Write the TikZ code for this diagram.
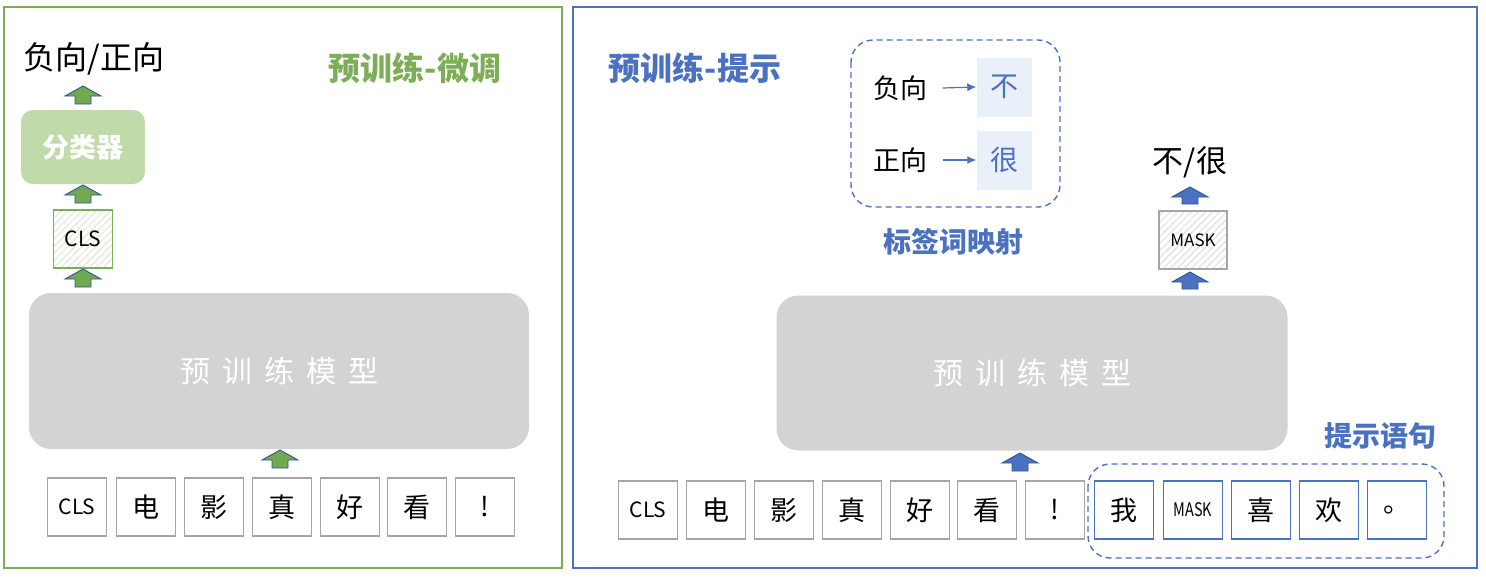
\documentclass[tikz,border=0pt]{standalone}
\usepackage{fontspec}
\setmainfont{Noto Sans CJK SC}
\usetikzlibrary{patterns.meta,arrows.meta}
\definecolor{gline}{HTML}{7DAE57}
\definecolor{bline}{HTML}{4A72C0}
\definecolor{gfill}{HTML}{C1DAAA}
\definecolor{mgray}{HTML}{D3D3D3}
\definecolor{tgray}{HTML}{A6A6A6}
\definecolor{arrfill}{HTML}{72A84E}
\definecolor{arrblue}{HTML}{4A72C0}
\definecolor{arredge}{HTML}{2F5597}
\definecolor{lblue}{HTML}{EAF0F9}
\definecolor{hatchg}{HTML}{D5E6C6}
\definecolor{hatchgray}{HTML}{D8D8D8}
\tikzset{
  panel/.style={draw, line width=1.6pt},
  tok/.style={draw=tgray, line width=1.3pt, minimum width=59pt, minimum height=58pt, inner sep=0pt, font=\fontsize{27}{27}\selectfont},
  btok/.style={tok, draw=bline},
  model/.style={fill=mgray, rounded corners=22pt, inner sep=0pt, text=white, font=\fontsize{30}{30}\selectfont},
  title/.style={font=\bfseries\fontsize{32}{32}\selectfont},
  subtitle/.style={font=\bfseries\fontsize{28}{28}\selectfont, text=bline},
  hatch/.style={pattern={Lines[angle=45,distance=5pt,line width=0.8pt]}},
  garrow/.style={fill=arrfill, draw=arredge, line width=0.9pt},
  barrow/.style={fill=arrblue, draw=arredge, line width=0.9pt},
  dbox/.style={draw=bline, dashed, dash pattern=on 6pt off 4pt, line width=1.4pt, rounded corners=22pt},
  lbl/.style={font=\fontsize{27}{27}\selectfont},
  biglbl/.style={font=\fontsize{32}{32}\selectfont},
}
\newcommand\blockup[4]{% style, x center, y top, height
  \draw[#1] (#2-18,#3+10) -- (#2,#3) -- (#2+18,#3+10) -- (#2+8,#3+10) -- (#2+8,#3+#4) -- (#2-8,#3+#4) -- (#2-8,#3+10) -- cycle;}
\begin{document}
\begin{tikzpicture}[x=1pt,y=-1pt]
\useasboundingbox (0,0) rectangle (1486,576);
% panels
\draw[panel, draw=gline] (4,7) rectangle (562,568);
\draw[panel, draw=bline] (573,7) rectangle (1477,568);

% ===== left panel =====
\node[biglbl] (lout) at (94,59) {负向/正向};
\node[title, text=gline] (ltitle) at (415,68) {预训练-微调};
\node[fill=gfill, rounded corners=12pt, minimum width=124pt, minimum height=74pt, inner sep=0pt, text=white, font=\bfseries\fontsize{27}{27}\selectfont] (cls1) at (83,147) {分类器};
\node[draw=gline, line width=1.3pt, hatch, pattern color=hatchg, minimum width=59pt, minimum height=58pt, inner sep=0pt, font=\fontsize{21}{21}\selectfont] (clsv) at (83,239) {CLS};
\node[model, minimum width=500pt, minimum height=156pt] (lmodel) at (279,371) {预\hspace{12pt}训\hspace{12pt}练\hspace{12pt}模\hspace{12pt}型};
\blockup{garrow}{83}{86}{18}
\blockup{garrow}{83}{185}{18}
\blockup{garrow}{83}{269}{18}
\blockup{garrow}{280}{450}{18}
\node[tok, font=\fontsize{21}{21}\selectfont] (l1) at (77,507) {CLS};
\node[tok] (l2) at (146,507) {电};
\node[tok] (l3) at (214,507) {影};
\node[tok] (l4) at (282,507) {真};
\node[tok] (l5) at (350,507) {好};
\node[tok] (l6) at (417,507) {看};
\node[tok] (l7) at (485,507) {!};

% ===== right panel =====
\node[title, text=bline] (rtitle) at (695,68) {预训练-提示};
\draw[dbox] (851,40) rectangle (1060,207);
\node[lbl] (neg) at (900,88) {负向};
\node[lbl] (pos) at (900,160) {正向};
\node[fill=lblue, minimum width=55pt, minimum height=59pt, inner sep=0pt, text=bline, font=\fontsize{28}{28}\selectfont] (bu) at (1004,87) {不};
\node[fill=lblue, minimum width=55pt, minimum height=59pt, inner sep=0pt, text=bline, font=\fontsize{28}{28}\selectfont] (hen) at (1004,160) {很};
\draw[bline, line width=1.2pt, -{Latex[length=9pt,width=8pt]}] (neg.east)+(12,0) -- (bu.west);
\draw[bline, line width=1.2pt, -{Latex[length=9pt,width=8pt]}] (pos.east)+(12,0) -- (hen.west);
\node[subtitle] (maplbl) at (953,242) {标签词映射};

\node[font=\fontsize{31}{31}\selectfont] (rout) at (1190,162) {不/很};
\blockup{barrow}{1190}{187}{17}
\node[draw=tgray, line width=1.3pt, hatch, pattern color=hatchgray, minimum width=68pt, minimum height=58pt, inner sep=0pt, font=\fontsize{17}{17}\selectfont] (maskv) at (1193,240) {MASK};
\blockup{barrow}{1190}{272}{17}
\node[model, minimum width=511pt, minimum height=155pt] (rmodel) at (1032,373) {预\hspace{12pt}训\hspace{12pt}练\hspace{12pt}模\hspace{12pt}型};
\node[subtitle] (plbl) at (1380,436) {提示语句};
\blockup{barrow}{1020}{453}{18}
\draw[dbox] (1088,464) rectangle (1444,558);
\node[tok, font=\fontsize{21}{21}\selectfont] (r1) at (648,510) {CLS};
\node[tok] (r2) at (716,510) {电};
\node[tok] (r3) at (784,510) {影};
\node[tok] (r4) at (852,510) {真};
\node[tok] (r5) at (920,510) {好};
\node[tok] (r6) at (987,510) {看};
\node[tok] (r7) at (1055,510) {!};
\node[btok] (p1) at (1124,510) {我};
\node[btok, font=\fontsize{17}{17}\selectfont] (p2) at (1193,510) {\scalebox{0.85}[1.1]{MASK}};
\node[btok] (p3) at (1261,510) {喜};
\node[btok] (p4) at (1329,510) {欢};
\node[btok] (p5) at (1397,510) {。};
\end{tikzpicture}
\end{document}
